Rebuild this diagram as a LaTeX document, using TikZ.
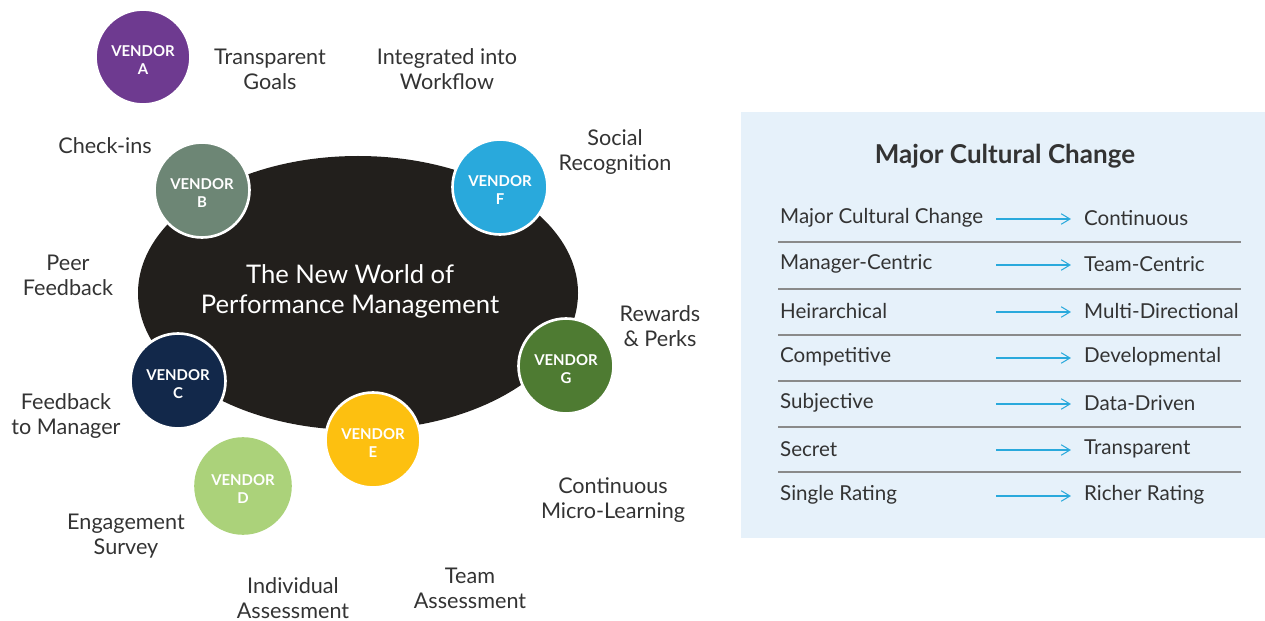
\documentclass[tikz,border=0pt]{standalone}
\usepackage{fontspec}
\setmainfont{Lato}
\usetikzlibrary{arrows.meta}
\definecolor{ovalblack}{HTML}{221F1C}
\definecolor{vendA}{HTML}{6E3A90}
\definecolor{vendB}{HTML}{6D8675}
\definecolor{vendC}{HTML}{12284A}
\definecolor{vendD}{HTML}{ABD27A}
\definecolor{vendE}{HTML}{FDC010}
\definecolor{vendF}{HTML}{29A9DC}
\definecolor{vendG}{HTML}{4E7B32}
\definecolor{textgray}{HTML}{333333}
\definecolor{panelblue}{HTML}{E6F1FA}
\definecolor{rulegray}{HTML}{8A8A8A}
\newcommand{\vendorstrut}{\rule{0pt}{9.6pt}}
\begin{document}
\begin{tikzpicture}[x=0.02cm, y=-0.02cm,
	vendor/.style={draw=white, line width=1.5pt, shape=circle, minimum size=1.9cm, inner sep=0pt, text=white, align=center, font=\bfseries\fontsize{8.5}{10.5}\selectfont},
	feature/.style={text=textgray, align=center, font=\fontsize{12.3}{14.3}\selectfont},
	rowtext/.style={text=textgray, anchor=west, font=\fontsize{11.7}{13}\selectfont},
	changearrow/.style={draw=vendF, line width=0.6pt, -{Straight Barb[length=5pt,width=6pt]}, shorten >=4pt}]
		\useasboundingbox (0,0) rectangle (1265,621);

		% central oval
		\fill[ovalblack] (358,293) ellipse (220 and 137);
		\path (350,291) node[text=white, align=center, font=\fontsize{14.6}{17}\selectfont] (core) {The New World of\\Performance Management};

		% vendors
		\path (143,57) node[vendor, fill=vendA] (va) {\vendorstrut VENDOR\\A}
		(202,190) node[vendor, fill=vendB] (vb) {\vendorstrut VENDOR\\B}
		(178,381) node[vendor, fill=vendC] (vc) {\vendorstrut VENDOR\\C}
		(243,486) node[vendor, fill=vendD, draw=vendD] (vd) {\vendorstrut VENDOR\\D}
		(373,440) node[vendor, fill=vendE] (ve) {\vendorstrut VENDOR\\E}
		(500,187) node[vendor, fill=vendF] (vf) {\vendorstrut VENDOR\\F}
		(566,366) node[vendor, fill=vendG] (vg) {\vendorstrut VENDOR\\G};

		% practices around the oval
		\path (270,69) node[feature] (goals) {Transparent\\Goals}
		(447,69) node[feature] (workflow) {Integrated into\\Workflow}
		(105,146) node[feature] (checkins) {Check-ins}
		(615,152) node[feature] (social) {Social\\Recognition}
		(68,275) node[feature] (peer) {Peer\\Feedback}
		(660,326) node[feature] (rewards) {Rewards\\\& Perks}
		(66,416) node[feature] (tomanager) {Feedback\\to Manager}
		(613,500) node[feature] (learning) {Continuous\\Micro-Learning}
		(126,536) node[feature] (survey) {Engagement\\Survey}
		(293,598) node[feature] (individual) {Individual\\Assessment}
		(470,588) node[feature] (team) {Team\\Assessment};

		% panel
		\fill[panelblue] (741,112) rectangle (1265,538);
		\path (1005,156) node[text=textgray, font=\bfseries\fontsize{14.8}{17}\selectfont] (title) {Major Cultural Change};

		\path (774,218) node[rowtext] (l1) {Major Cultural Change}
		(774,264) node[rowtext] (l2) {Manager-Centric}
		(774,311) node[rowtext] (l3) {Heirarchical}
		(774,357) node[rowtext] (l4) {Competitive}
		(774,403) node[rowtext] (l5) {Subjective}
		(774,449) node[rowtext] (l6) {Secret}
		(774,495) node[rowtext] (l7) {Single Rating};

		\path (1078,218) node[rowtext] (r1) {Continuous}
		(1078,264) node[rowtext] (r2) {Team-Centric}
		(1078,311) node[rowtext] (r3) {Multi-Directional}
		(1078,357) node[rowtext] (r4) {Developmental}
		(1078,403) node[rowtext] (r5) {Data-Driven}
		(1078,449) node[rowtext] (r6) {Transparent}
		(1078,495) node[rowtext] (r7) {Richer Rating};

		\path (996,219) coordinate (a1)
		(996,265) coordinate (a2)
		(996,312) coordinate (a3)
		(996,358) coordinate (a4)
		(996,404) coordinate (a5)
		(996,450) coordinate (a6)
		(996,496) coordinate (a7);

		\draw[changearrow] (a1) -- (r1.west |- a1);
		\draw[changearrow] (a2) -- (r2.west |- a2);
		\draw[changearrow] (a3) -- (r3.west |- a3);
		\draw[changearrow] (a4) -- (r4.west |- a4);
		\draw[changearrow] (a5) -- (r5.west |- a5);
		\draw[changearrow] (a6) -- (r6.west |- a6);
		\draw[changearrow] (a7) -- (r7.west |- a7);

		\draw[rulegray, line width=1.1pt] (778,242) -- (1241,242)
		(778,289) -- (1241,289)
		(778,335) -- (1241,335)
		(778,381) -- (1241,381)
		(778,427) -- (1241,427)
		(778,472) -- (1241,472);
	\end{tikzpicture}
\end{document}
